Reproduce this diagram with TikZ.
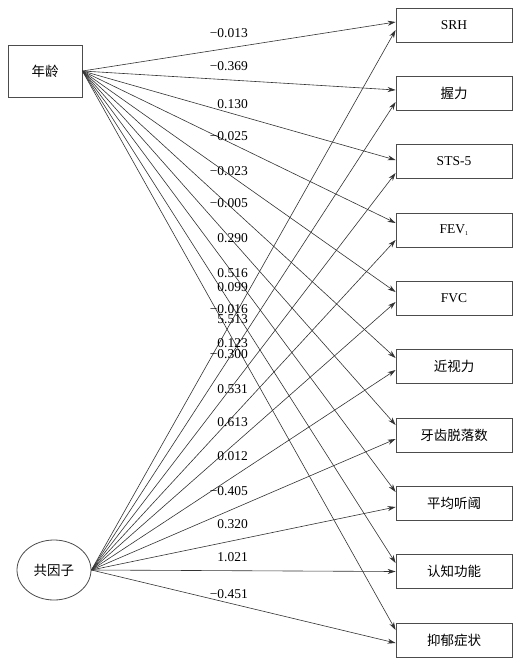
\documentclass[tikz,border=0pt]{standalone}
\usepackage{fontspec}
\setmainfont{Liberation Serif}
\newfontfamily\cjk{Noto Sans CJK SC}
\usetikzlibrary{arrows.meta,calc,shapes.geometric}
\begin{document}
\begin{tikzpicture}[x=1pt,y=-1pt,
  font=\fontsize{13.5}{15}\selectfont,
  obsbox/.style={draw=black!70,line width=0.8pt,minimum width=116pt,minimum height=34pt,inner sep=0pt},
  agebox/.style={draw=black!70,line width=0.8pt,minimum width=74pt,minimum height=52pt,inner sep=0pt},
  factell/.style={draw=black!70,line width=0.8pt,ellipse,minimum width=74pt,minimum height=60pt,inner sep=0pt},
  path/.style={draw=black!80,line width=0.6pt,-{Stealth[length=8pt,width=5pt]}},
  coef/.style={anchor=east,inner sep=0pt}]
\useasboundingbox (0,0) rectangle (527,665);
\fill[white] (0,0) rectangle (527,665);
\node[agebox] (age) at (45,71) {\cjk 年龄};
\node[factell] (fac) at (54,570) {\cjk 共因子};
\node[obsbox] (b1) at (454,25) {SRH};
\node[obsbox] (b2) at (454,93.5) {\cjk 握力};
\node[obsbox] (b3) at (454,161.5) {STS-5};
\node[obsbox] (b4) at (454,230) {FEV\textsubscript{\fontsize{6}{6}\selectfont 1}};
\node[obsbox] (b5) at (454,298.5) {FVC};
\node[obsbox] (b6) at (454,366.5) {\cjk 近视力};
\node[obsbox] (b7) at (454,435) {\cjk 牙齿脱落数};
\node[obsbox] (b8) at (454,503.5) {\cjk 平均听阈};
\node[obsbox] (b9) at (454,571.5) {\cjk 认知功能};
\node[obsbox] (b10) at (454,640) {\cjk 抑郁症状};
% age paths
\foreach \b/\d in {b1/-3,b2/-3.5,b3/-1.5,b4/-7,b5/-6.5,b6/-8.5,b7/-10,b8/-11.5,b9/-8.5,b10/-10}
  \draw[path] (age.east) -- ($(\b.west)+(0,\d)$);
% factor paths
\foreach \b/\d in {b1/5,b2/8.5,b3/11.5,b4/10,b5/3.5,b6/3.5,b7/4,b8/3.5,b9/0,b10/3}
  \draw[path] (fac.east) -- ($(\b.west)+(0,\d)$);
% coefficients
\node[coef] (l1) at (248,33) {−0.013};
\node[coef] (l2) at (248,66) {−0.369};
\node[coef] (l3) at (248,104) {0.130};
\node[coef] (l4) at (248,136) {−0.025};
\node[coef] (l5) at (248,171) {−0.023};
\node[coef] (l6) at (248,203) {−0.005};
\node[coef] (l7) at (248,238) {0.290};
\node[coef] (l8) at (248,273) {0.516};
\node[coef] (l9) at (248,287) {0.099};
\node[coef] (l10) at (248,309) {−0.016};
\node[coef] (l11) at (248,319) {5.513};
\node[coef] (l12) at (248,343) {0.123};
\node[coef] (l13) at (248,354) {−0.300};
\node[coef] (l14) at (248,389) {0.531};
\node[coef] (l15) at (248,422) {0.613};
\node[coef] (l16) at (248,456) {0.012};
\node[coef] (l17) at (248,491) {−0.405};
\node[coef] (l18) at (248,524) {0.320};
\node[coef] (l19) at (248,557) {1.021};
\node[coef] (l20) at (248,594) {−0.451};
\end{tikzpicture}
\end{document}
